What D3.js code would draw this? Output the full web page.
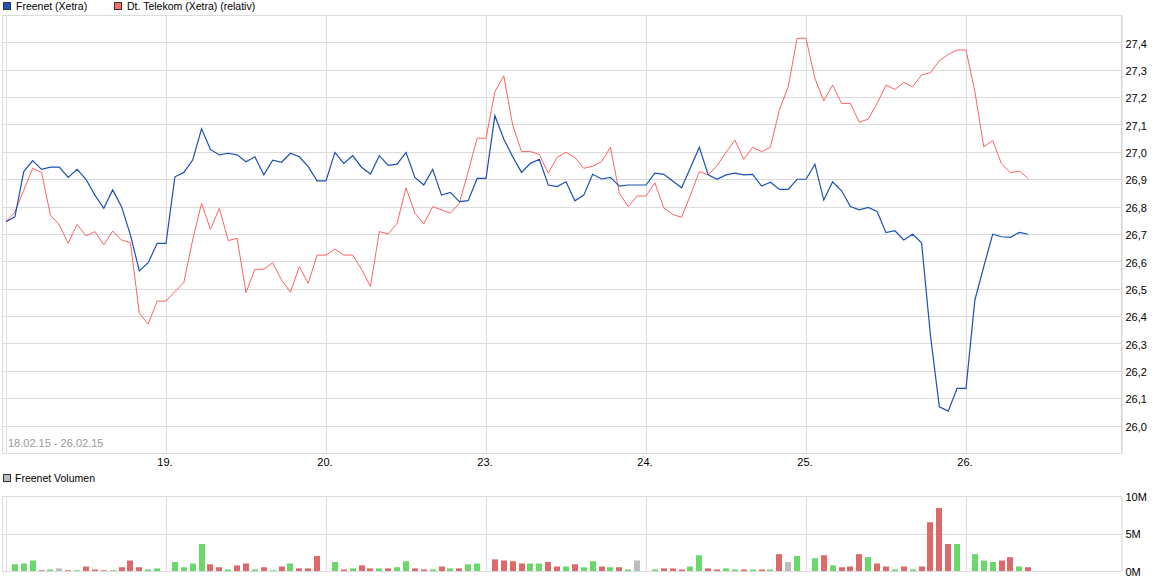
<!DOCTYPE html>
<html><head><meta charset="utf-8">
<script src="https://cdn.jsdelivr.net/npm/d3@7"></script>
<style>
body{margin:0;background:#fff}
svg{display:block}
text{font-family:"Liberation Sans",Arial,sans-serif;}
</style>
</head><body><svg id="c" width="1168" height="582"></svg>
<script>
// ---------- DATA ----------
const dayLabels = ["18.","19.","20.","23.","24.","25.","26."];
const pointsPerDay = 18;
const seriesNames = ["Freenet (Xetra)", "Dt. Telekom (Xetra) (relativ)"];
const volumeName = "Freenet Volumen";
const rangeLabel = "18.02.15 - 26.02.15";

const freenet = [
 26.745,26.763,26.928,26.968,26.936,26.944,26.944,26.907,26.936,26.900,26.842,26.794,26.861,26.800,26.696,26.565,26.595,26.666,
 26.666,26.909,26.925,26.970,27.084,27.009,26.989,26.995,26.989,26.964,26.982,26.916,26.970,26.962,26.995,26.982,26.946,26.894,
 26.894,26.998,26.958,26.986,26.944,26.919,26.986,26.951,26.955,26.998,26.907,26.879,26.936,26.842,26.852,26.818,26.822,26.903,
 26.903,27.132,27.047,26.982,26.925,26.958,26.973,26.879,26.873,26.891,26.821,26.842,26.918,26.901,26.907,26.875,26.879,26.879,
 26.879,26.922,26.918,26.894,26.869,26.942,27.017,26.916,26.900,26.916,26.922,26.916,26.918,26.875,26.889,26.863,26.863,26.900,
 26.900,26.955,26.824,26.891,26.858,26.800,26.788,26.797,26.782,26.705,26.712,26.678,26.699,26.668,26.330,26.069,26.053,26.136,
 26.136,26.459,26.581,26.699,26.690,26.688,26.706,26.699
];
const telekom = [
 26.745,26.780,26.860,26.940,26.925,26.769,26.733,26.666,26.735,26.693,26.709,26.660,26.711,26.678,26.668,26.410,26.371,26.455,
 26.455,26.490,26.522,26.678,26.812,26.717,26.794,26.676,26.684,26.486,26.571,26.571,26.595,26.532,26.487,26.581,26.520,26.623,
 26.623,26.645,26.623,26.623,26.571,26.508,26.709,26.700,26.739,26.869,26.776,26.737,26.800,26.788,26.776,26.812,26.928,27.050,
 27.050,27.220,27.278,27.098,27.001,27.001,26.991,26.922,26.980,26.998,26.980,26.940,26.948,26.964,27.017,26.849,26.800,26.839,
 26.839,26.887,26.796,26.772,26.761,26.842,26.928,26.916,26.950,26.998,27.043,26.973,27.017,27.001,27.017,27.153,27.238,27.415,
 27.415,27.269,27.186,27.244,27.177,27.177,27.108,27.120,27.177,27.244,27.228,27.254,27.238,27.281,27.289,27.333,27.356,27.372,
 27.372,27.220,27.019,27.041,26.956,26.924,26.930,26.903
];
// volume in millions (null = no bar at day open)
const volume = [
 null,0.9,1.0,1.4,0.1,0.2,0.35,0.1,0.1,0.6,0.2,0.1,0.1,0.5,1.4,0.5,0.2,0.35,
 null,1.2,0.5,1.0,3.6,0.9,0.5,0.2,0.75,1.0,0.2,0.5,0.1,0.6,1.0,0.35,0.35,2.0,
 null,1.2,0.2,0.35,0.75,0.35,0.35,0.35,0.5,1.3,0.35,0.2,0.2,0.6,0.35,0.35,0.9,1.0,
 null,1.55,1.4,1.3,1.0,1.0,1.0,1.2,0.6,0.6,0.9,0.5,1.3,0.6,0.5,0.5,0.2,1.4,
 null,0.2,0.35,0.35,0.2,0.6,2.1,0.35,0.2,0.35,0.2,0.2,0.2,0.2,0.2,2.25,1.2,2.0,
 null,1.7,2.1,0.75,0.5,0.6,2.25,1.85,1.0,0.6,0.2,0.6,0.2,0.6,6.5,8.4,3.6,3.6,
 null,2.25,1.4,1.2,1.4,1.85,0.6,0.5
];
// u = up (green), d = down (red), n = unchanged (grey)
const volumeDir = [
 "-","u","u","u","d","u","n","d","u","d","d","d","u","d","d","d","u","u",
 "-","u","u","u","u","d","d","u","d","d","u","d","u","d","u","d","d","d",
 "-","u","d","u","d","d","u","d","u","u","d","d","u","d","u","d","u","u",
 "-","d","d","d","d","u","u","d","d","u","d","u","u","d","u","d","u","n",
 "-","u","d","d","d","u","u","d","d","u","u","d","u","d","u","d","n","u",
 "-","u","d","u","d","d","d","u","d","d","u","d","u","d","d","d","d","u",
 "-","u","u","u","d","d","u","d"
];
const priceTicks = [26.0,26.1,26.2,26.3,26.4,26.5,26.6,26.7,26.8,26.9,27.0,27.1,27.2,27.3,27.4];
const volTicks = [0,5,10];
const volTickLabels = ["0M","5M","10M"];

// ---------- CHART ----------
const svg = d3.select("#c");
const grid = "#dcdcdc";
const blue = "#1a50b4", red = "#ff6262";
const volColors = {u:"#6ad86a", d:"#dc6a6a", n:"#bdbdbd"};

const left = 2.5, right = 1121.5;
const x = d3.scaleLinear().domain([0, pointsPerDay]).range([6, 166]);
const y = d3.scaleLinear().domain([25.9, 27.5]).range([453, 15]);
const yv = d3.scaleLinear().domain([0, 10]).range([571, 496]);
const crisp = v => Math.round(v) + 0.5;
const nDays = dayLabels.length;
const dayIdx = d3.range(nDays).map(d => d * pointsPerDay);

const fmt = d3.formatLocale({decimal:",", thousands:".", grouping:[3], currency:["","€"]}).format(".1f");

// main panel grid
const g = svg.append("g");
g.selectAll(".hg").data(priceTicks).join("line")
  .attr("x1", left).attr("x2", right)
  .attr("y1", d => crisp(y(d))).attr("y2", d => crisp(y(d)))
  .attr("stroke", grid);
g.selectAll(".vg").data(dayIdx).join("line")
  .attr("x1", d => crisp(x(d))).attr("x2", d => crisp(x(d)))
  .attr("y1", 15).attr("y2", 453)
  .attr("stroke", grid);
g.append("rect").attr("x", left).attr("y", 15.5).attr("width", right - left).attr("height", 438)
  .attr("fill", "none").attr("stroke", grid);

// right axis
const yAxis = d3.axisRight(y).tickValues(priceTicks).tickSize(0).tickPadding(4).tickFormat(fmt);
const ya = svg.append("g").attr("transform", `translate(${right},0)`).call(yAxis);
ya.select(".domain").attr("stroke", "#d0d0d0");
ya.selectAll("text").attr("font-size", 11).attr("fill", "#000").attr("dy", "0.42em")
  .attr("font-family", '"Liberation Sans",Arial,sans-serif');

// x labels
svg.selectAll(".xl").data(dayIdx.slice(1)).join("text")
  .attr("x", d => x(d) - 1).attr("y", 466)
  .attr("text-anchor", "middle").attr("font-size", 11).attr("fill", "#000")
  .text((d, i) => dayLabels[i + 1]);

svg.append("text").attr("x", 8).attr("y", 447).attr("font-size", 11).attr("fill", "#9a9a9a").text(rangeLabel);

// lines
const line = d3.line().x((d, i) => x(i)).y(d => y(d));
svg.append("path").datum(telekom).attr("d", line).attr("fill", "none").attr("stroke", red).attr("stroke-width", 1);
svg.append("path").datum(freenet).attr("d", line).attr("fill", "none").attr("stroke", blue).attr("stroke-width", 1.2);

// legend
const leg = [{n: seriesNames[0], c: "#1c55c0", x: 3}, {n: seriesNames[1], c: "#ff6b6b", x: 114}];
leg.forEach(l => {
  svg.append("rect").attr("x", l.x + 0.5).attr("y", 2.5).attr("width", 7).attr("height", 7)
    .attr("fill", l.c).attr("stroke", "#333");
  svg.append("text").attr("x", l.x + 13).attr("y", 10).attr("font-size", 10.5).attr("fill", "#000").text(l.n);
});

// volume panel
svg.append("rect").attr("x", 3.5).attr("y", 474.5).attr("width", 7).attr("height", 7)
  .attr("fill", "#bdbdbd").attr("stroke", "#333");
svg.append("text").attr("x", 15).attr("y", 482).attr("font-size", 10.5).attr("fill", "#000").text(volumeName);

const gv = svg.append("g");
gv.selectAll(".vh").data(volTicks).join("line")
  .attr("x1", left).attr("x2", right)
  .attr("y1", d => crisp(yv(d))).attr("y2", d => crisp(yv(d)))
  .attr("stroke", grid);
gv.selectAll(".vv").data(dayIdx).join("line")
  .attr("x1", d => crisp(x(d))).attr("x2", d => crisp(x(d)))
  .attr("y1", 496).attr("y2", 571).attr("stroke", grid);
gv.append("line").attr("x1", left).attr("x2", left).attr("y1", 496).attr("y2", 571).attr("stroke", grid);

const bars = volume.map((v, i) => ({i, v, dir: volumeDir[i]})).filter(d => d.v != null);
gv.selectAll(".bar").data(bars).join("rect")
  .attr("x", d => Math.round(x(d.i)) - 3).attr("width", 6)
  .attr("y", d => yv(d.v)).attr("height", d => yv(0) - yv(d.v))
  .attr("fill", d => volColors[d.dir]);

const vAxis = d3.axisRight(yv).tickValues(volTicks).tickSize(0).tickPadding(4)
  .tickFormat((d, i) => volTickLabels[i]);
const va = svg.append("g").attr("transform", `translate(${right},0)`).call(vAxis);
va.select(".domain").attr("stroke", "#d0d0d0");
va.selectAll("text").attr("font-size", 11).attr("fill", "#000").attr("dy", "0.4em")
  .attr("font-family", '"Liberation Sans",Arial,sans-serif');
</script>
</body></html>
